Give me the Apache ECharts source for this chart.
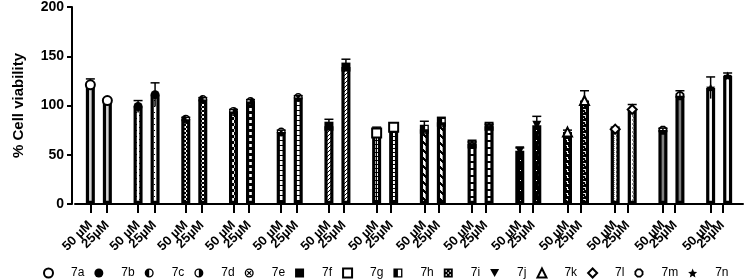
<!DOCTYPE html>
<html>
<head>
<meta charset="utf-8">
<script src="https://cdn.jsdelivr.net/npm/echarts@6/dist/echarts.min.js"></script>
<style>
  html, body { margin: 0; padding: 0; background: #fff; }
  #chart-container { width: 746px; height: 279px; }
</style>
</head>
<body>
<div id="chart-container"></div>
<script>
// data
const compounds = ['7a', '7b', '7c', '7d', '7e', '7f', '7g', '7h', '7i', '7j', '7k', '7l', '7m', '7n'];
const doseLabels = ['50 µM', '25µM'];
const mean50 = [121, 99, 86, 94, 73, 79, 72, 76, 61, 54, 73, 76, 75, 118];
const sd50   = [6, 6, 2, 2, 2, 7, 6, 8, 2, 3, 2, 2, 2, 11];
const mean25 = [105, 111, 106, 104, 108, 139, 78, 83, 79, 80, 105, 96, 110, 130];
const sd25   = [2, 12, 2, 2, 2, 8, 4, 5, 2, 9, 10, 5, 5, 3];
const yTicks = [0, 50, 100, 150, 200];

var dom = document.getElementById('chart-container');
var myChart = echarts.init(dom, null, { renderer: 'canvas' });

const FONT = 'Liberation Sans';
const BAR_OFF = 8.5;   // half the distance between the two bars of a group

// small tiled patterns for the bar fills
function pat(w, h, bg, draw) {
  const c = document.createElement('canvas');
  c.width = w; c.height = h;
  const g = c.getContext('2d');
  g.fillStyle = bg;
  g.fillRect(0, 0, w, h);
  g.fillStyle = '#000';
  draw(g);
  return { image: c, repeat: 'repeat' };
}

const fills = [
  '#d4d4d4',
  pat(6, 6, 'rgba(255,255,255,0)', g => { g.fillRect(1, 1, 1, 1); g.fillRect(4, 4, 1, 1); }),
  pat(4, 4, '#fff', g => { g.fillRect(0, 0, 2, 2); g.fillRect(2, 2, 2, 2); }),
  pat(6, 6, '#fff', g => { g.fillRect(0, 0, 3, 3); g.fillRect(3, 3, 3, 3); }),
  pat(4, 5, '#fff', g => { g.fillRect(0, 0, 4, 1); }),
  pat(4, 4, '#fff', g => { for (let y = 0; y < 4; y++) g.fillRect(3 - y, y, 1, 1); }),
  pat(4, 4, '#fff', g => { g.fillRect(0, 0, 4, 1); g.fillRect(0, 0, 1, 4); }),
  pat(8, 8, '#fff', g => { for (let y = 0; y < 8; y++) for (let k = 0; k < 3; k++) g.fillRect((y + k) % 8, y, 1, 1); }),
  pat(6, 7, '#fff', g => { g.fillRect(0, 0, 6, 2); }),
  pat(8, 10, '#000', g => {
    g.fillStyle = '#fff';
    g.fillRect(3, 3, 2, 4); g.fillRect(2, 4, 4, 2);
    g.fillRect(0, 0, 1, 1);
  }),
  pat(6, 6, '#000', g => {
    g.fillStyle = '#fff';
    g.fillRect(1, 1, 3, 1); g.fillRect(3, 1, 1, 3); g.fillRect(3, 3, 2, 1);
    g.fillRect(1, 4, 1, 1);
  }),
  pat(4, 4, '#fff', g => {
    g.fillStyle = '#8a8a8a';
    g.fillRect(0, 0, 1, 1); g.fillRect(2, 0, 1, 1); g.fillRect(1, 1, 1, 1);
    g.fillRect(2, 2, 1, 1); g.fillRect(0, 3, 1, 1);
  }),
  '#808080',
  'rgba(255,255,255,0)'
];

const symbols = [
  'emptyCircle',
  'circle',
  'path://M10,0 A10,10 0 1,1 10,20 A10,10 0 1,1 10,0 Z M10,3 L10,17 A7,7 0 0,0 10,3 Z',
  'path://M10,0 A10,10 0 1,1 10,20 A10,10 0 1,1 10,0 Z M10,3 A7,7 0 0,0 10,17 Z',
  'path://M10,0 A10,10 0 1,1 10,20 A10,10 0 1,1 10,0 Z M10,3 A7,7 0 1,0 10,17 A7,7 0 1,0 10,3 Z ' +
    'M6.68,4.84 L15.16,13.32 L13.32,15.16 L4.84,6.68 Z M15.16,6.68 L6.68,15.16 L4.84,13.32 L13.32,4.84 Z',
  'rect',
  'emptyRect',
  'path://M0,0 L20,0 L20,20 L0,20 Z M10,3 L10,17 L17,17 L17,3 Z',
  'path://M0,0 L20,0 L20,20 L0,20 Z M4,4 L4,7 L7,7 L7,4 Z M13,4 L13,7 L16,7 L16,4 Z ' +
    'M4,13 L4,16 L7,16 L7,13 Z M13,13 L13,16 L16,16 L16,13 Z M8.5,8.5 L8.5,11.5 L11.5,11.5 L11.5,8.5 Z',
  'path://M0,0 L20,0 L10,18 Z',
  'emptyTriangle',
  'emptyDiamond',
  'path://M6,0 L14,0 L20,6 L20,14 L14,20 L6,20 L0,14 L0,6 Z M7.5,4 L4,7.5 L4,12.5 L7.5,16 L12.5,16 L16,12.5 L16,7.5 L12.5,4 Z',
  'path://M10,0 L12.9,6.9 L20,7.6 L14.6,12.3 L16.2,19.5 L10,15.8 L3.8,19.5 L5.4,12.3 L0,7.6 L7.1,6.9 Z'
];

// error bars, drawn behind the bars
function errorSeries(means, sds, off) {
  return {
    type: 'custom',
    xAxisIndex: 0, yAxisIndex: 0,
    z: 1,
    silent: true,
    data: means.map((m, i) => [i, m, sds[i]]),
    renderItem: function (params, api) {
      const i = api.value(0), m = api.value(1), s = api.value(2);
      const top = api.coord([i, m + s]);
      const bot = api.coord([i, m - s]);
      const x = top[0] + off;
      const st = { stroke: '#000', lineWidth: 1.5 };
      return {
        type: 'group',
        children: [
          { type: 'line', shape: { x1: x, y1: top[1], x2: x, y2: bot[1] }, style: st },
          { type: 'line', shape: { x1: x - 4.5, y1: top[1], x2: x + 4.5, y2: top[1] }, style: st }
        ]
      };
    }
  };
}

function barSeries(name, means) {
  return {
    name: name,
    type: 'bar',
    xAxisIndex: 0, yAxisIndex: 0,
    z: 2,
    barWidth: 9,
    barGap: '89%',
    data: means.map((v, i) => ({ value: v, itemStyle: { color: fills[i] } })),
    itemStyle: { borderColor: '#000', borderWidth: 3.2 }
  };
}

// one scatter series per compound so the legend shows its symbol
const pointSeries = compounds.map((c, i) => ({
  name: c,
  type: 'scatter',
  xAxisIndex: 0, yAxisIndex: 0,
  z: 3,
  symbol: symbols[i],
  symbolSize: 9,
  itemStyle: { color: '#000', opacity: 1 },
  data: [
    { value: [i, mean50[i]], symbolOffset: [-BAR_OFF, 0] },
    { value: [i, mean25[i]], symbolOffset: [BAR_OFF, 0] }
  ]
}));

// dose label axes: same category layout, shifted onto each bar
function labelAxis(gridIndex, label) {
  return {
    type: 'category',
    gridIndex: gridIndex,
    data: compounds.map(() => label),
    axisLine: { show: false },
    axisTick: { show: true, alignWithLabel: true, length: 9, lineStyle: { color: '#000', width: 2 } },
    axisLabel: {
      interval: 0, rotate: 45, margin: 19,
      fontFamily: FONT, fontWeight: 'bold', fontSize: 13, color: '#000'
    }
  };
}

function hiddenY(gridIndex) {
  return { type: 'value', gridIndex: gridIndex, min: 0, max: 200, show: false };
}

option = {
  animation: false,
  backgroundColor: '#fff',
  grid: [
    { left: 75, width: 668, top: 7, bottom: 75 },
    { left: 75 - BAR_OFF, width: 668, top: 7, bottom: 75 },
    { left: 75 + BAR_OFF, width: 668, top: 7, bottom: 75 }
  ],
  legend: {
    data: compounds,
    left: 38,
    top: 262,
    itemWidth: 9,
    itemHeight: 9,
    itemGap: 10,
    textStyle: { fontFamily: FONT, fontSize: 12, color: '#000', padding: [0, 0, 0, 13] },
    selectedMode: false
  },
  xAxis: [
    {
      type: 'category',
      gridIndex: 0,
      data: compounds,
      axisLine: { lineStyle: { color: '#000', width: 2 } },
      axisTick: { show: false },
      axisLabel: { show: false }
    },
    labelAxis(1, doseLabels[0]),
    labelAxis(2, doseLabels[1])
  ],
  yAxis: [
    {
      type: 'value',
      gridIndex: 0,
      min: yTicks[0],
      max: yTicks[yTicks.length - 1],
      interval: 50,
      offset: 3,
      name: '% Cell viability',
      nameLocation: 'middle',
      nameGap: 46,
      nameTextStyle: { fontFamily: FONT, fontWeight: 'bold', fontSize: 15, color: '#000' },
      axisLine: { show: true, lineStyle: { color: '#000', width: 2 } },
      axisTick: { show: true, length: 5, lineStyle: { color: '#000', width: 2 } },
      axisLabel: { fontFamily: FONT, fontWeight: 'bold', fontSize: 14, color: '#000', margin: 8 },
      splitLine: { show: false }
    },
    hiddenY(1),
    hiddenY(2)
  ],
  series: [
    errorSeries(mean50, sd50, -BAR_OFF),
    errorSeries(mean25, sd25, BAR_OFF),
    barSeries(doseLabels[0], mean50),
    barSeries(doseLabels[1], mean25)
  ].concat(pointSeries)
};

myChart.setOption(option);
window.addEventListener('resize', myChart.resize);
</script>
</body>
</html>
